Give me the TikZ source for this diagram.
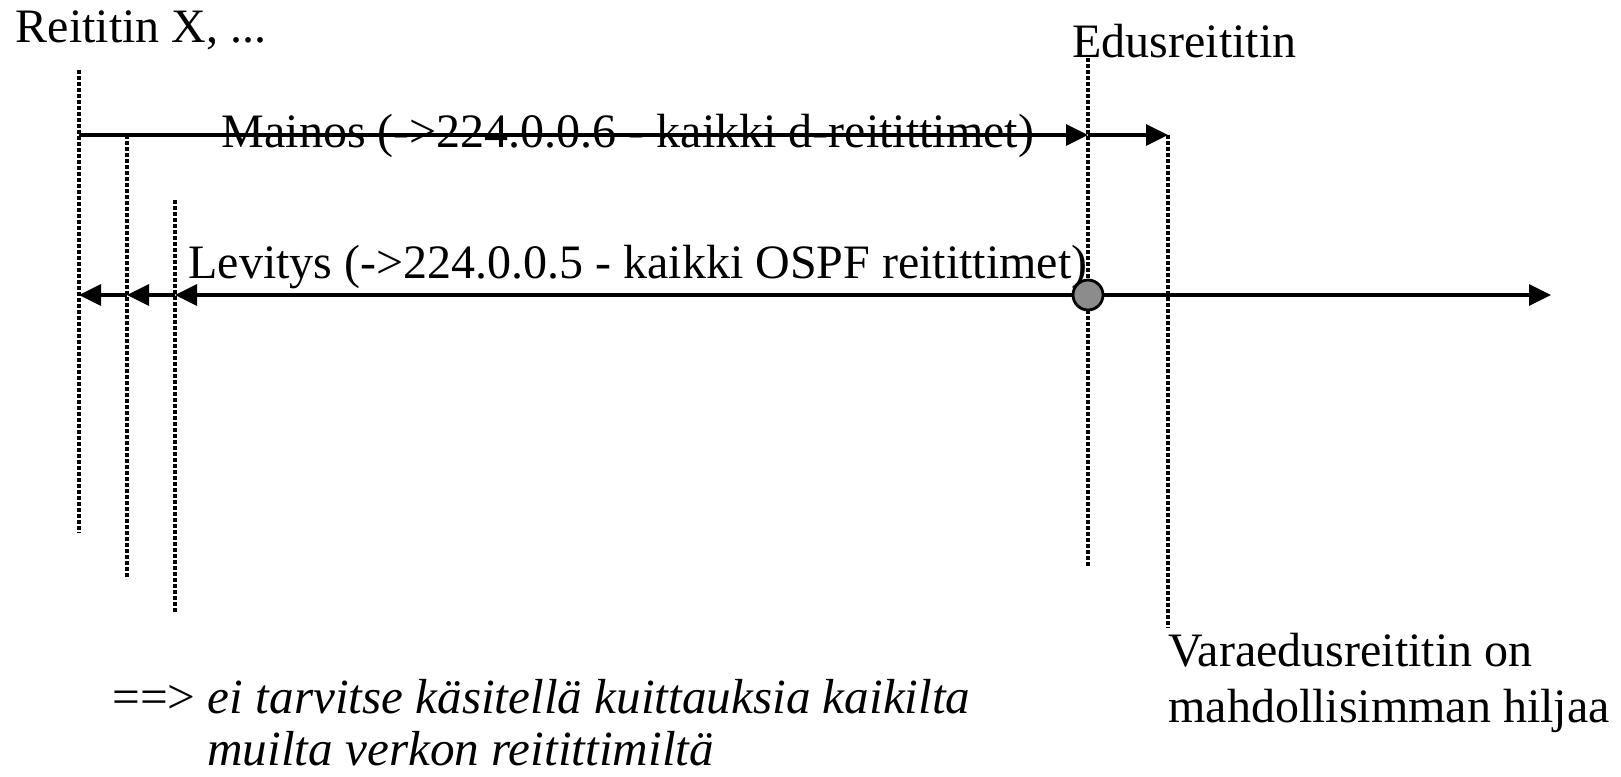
\documentclass[tikz,border=0pt]{standalone}
\usepackage{fontspec}
\setmainfont{Liberation Serif}
\usetikzlibrary{calc, positioning, arrows.meta}
\definecolor{dotgray}{RGB}{140,140,140}
\tikzset{
  life/.style={line width=1.6pt, dash pattern=on 2pt off 1pt},
  msg/.style={line width=1.6pt, -{Triangle[length=11pt,width=10.5pt]}},
  lbl/.style={font=\fontsize{24}{28}\selectfont, inner sep=0pt, anchor=base west},
}

\begin{document}
\begin{tikzpicture}[x=0.5pt,y=-0.5pt]
\useasboundingbox (0,0) rectangle (1621,776);
	% Routers
\node [lbl] (rx) at (15.5,42) {Reititin X, ...};
\node [lbl] (dr) at (1072,57) {Edusreititin};
\node [lbl] (bdr1) at (1168,666) {Varaedusreititin on};
\node [lbl] (bdr2) at (1168,722) {mahdollisimman hiljaa};
\coordinate (a1) at (79,70);
\coordinate (a2) at (79,533);
\coordinate (b1) at (127,135);
\coordinate (b2) at (127,579);
\coordinate (c1) at (175,200);
\coordinate (c2) at (175,612);
\coordinate (d1) at (1088,58);
\coordinate (d2) at (1088,567);
\coordinate (e1) at (1168,135);
\coordinate (e2) at (1168,628);
\draw [life] (a1) -- (a2);
\draw [life] (b1) -- (b2);
\draw [life] (c1) -- (c2);
\draw [life] (d1) -- (d2);
\draw [life] (e1) -- (e2);

	% Mainos
\coordinate (m1) at (79,135);
\coordinate (m2) at (1088,135);
\node [lbl, anchor=base] (ad) at (628,147) {Mainos (->224.0.0.6 - kaikki d-reitittimet)};
\draw [msg] (m1) -- (m2);
\draw [msg] (m2) -- (e1);

	% Levitys
\coordinate (l1) at (79,295);
\coordinate (l2) at (127,295);
\coordinate (l3) at (175,295);
\coordinate (l4) at (1551,295);
\node [lbl, anchor=base] (fl) at (638,278) {Levitys (->224.0.0.5 - kaikki OSPF reitittimet)};
\node [circle, draw, line width=1.4pt, fill=dotgray, minimum size=15pt, inner sep=0pt] (hub) at (1088,295) {};
\draw [msg] (hub) -- (l3);
\draw [msg] (l3) -- (l2);
\draw [msg] (l2) -- (l1);
\draw [msg] (hub) -- (l4);

	% Note
\node [lbl, font=\fontsize{24.6}{28}\selectfont] (n1) at (112,713) {==> \itshape ei tarvitse käsitellä kuittauksia kaikilta};
\node [lbl, font=\fontsize{24.6}{28}\selectfont] (n2) at (207,765) {\itshape muilta verkon reitittimiltä};
\end{tikzpicture}
\end{document}
